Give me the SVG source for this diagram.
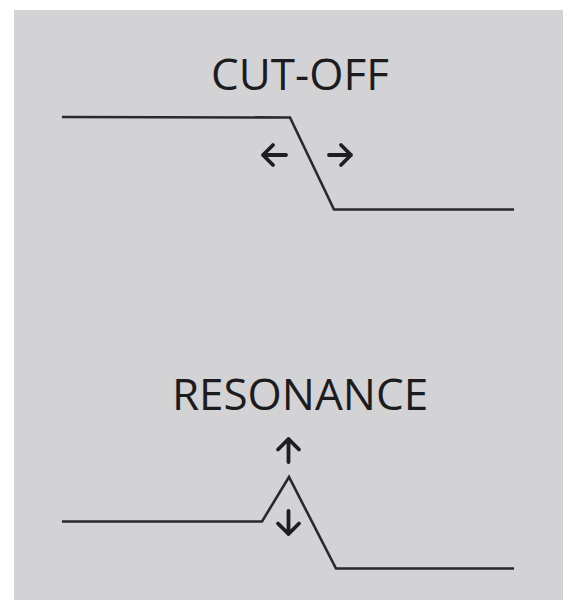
<svg xmlns="http://www.w3.org/2000/svg" width="569" height="600" viewBox="0 0 569 600">
  <style>
    .lbl { font-family: "Open Sans", "Liberation Sans", sans-serif; font-size: 44px; fill: #1c1c1e; text-anchor: middle; }
    .curve { fill: none; stroke: #2a2a2c; stroke-width: 2.6; stroke-linejoin: miter; }
    .arr { fill: none; stroke: #1e1e20; stroke-width: 3.8; stroke-linecap: round; stroke-linejoin: round; }
  </style>
  <rect x="0" y="0" width="569" height="600" fill="#ffffff"/>
  <rect id="panel" x="14" y="10" width="549" height="590" fill="#d3d3d5"/>

  <g id="cutoff">
    <text class="lbl" x="300" y="89.5">CUT-OFF</text>
    <polyline class="curve" points="62,117 290,117.5 334,209.5 514,209.5"/>
    <g id="cutoff-arrows">
      <path class="arr" d="M286,155 H263 M273,145 L263,155 L273,165"/>
      <path class="arr" d="M329,155 H351 M341,145 L351,155 L341,165"/>
    </g>
  </g>

  <g id="resonance">
    <text class="lbl" x="300" y="410">RESONANCE</text>
    <polyline class="curve" points="62,521.5 262,521.5 289,477 336,568.5 514,568.5"/>
    <g id="resonance-arrows">
      <path class="arr" d="M288.5,462 V439 M278,449.5 L288.5,439 L299,449.5"/>
      <path class="arr" d="M288.5,511 V534 M278,523.5 L288.5,534 L299,523.5"/>
    </g>
  </g>
</svg>
